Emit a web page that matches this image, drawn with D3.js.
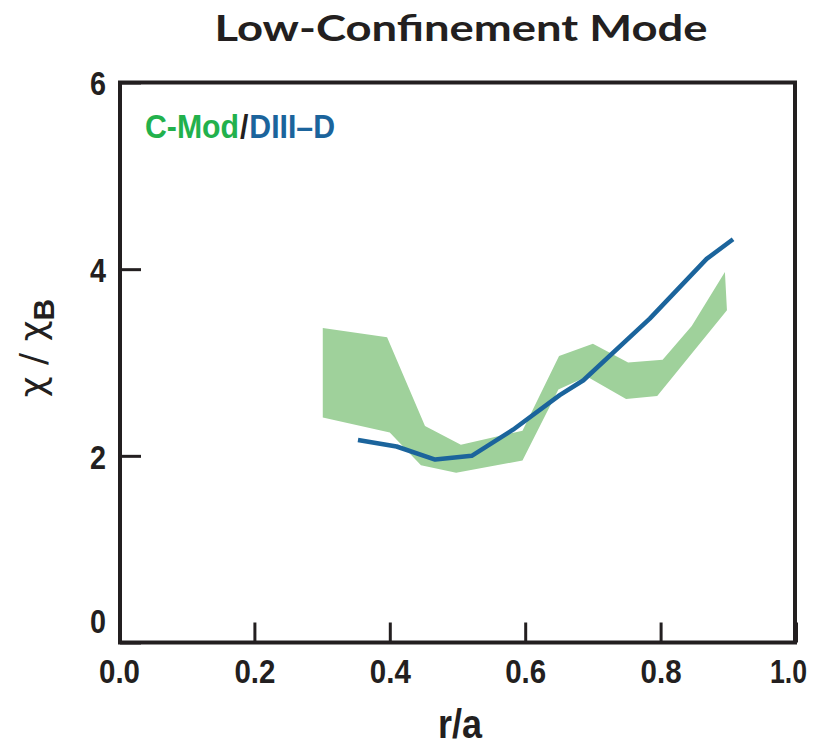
<!DOCTYPE html>
<html>
<head>
<meta charset="utf-8">
<script src="https://cdn.jsdelivr.net/npm/d3@7"></script>
<style>
  html, body { margin: 0; padding: 0; background: #ffffff; }
  svg { display: block; }
</style>
</head>
<body>
<svg id="chart" width="817" height="748"></svg>
<script>
// ---- data ----
const titleText = "Low-Confinement Mode";
const xTicks = [0.0, 0.2, 0.4, 0.6, 0.8, 1.0];
const yTicks = [0, 2, 4, 6];
const legendParts = ["C-Mod", "/", "DIII\u2013D"];

// C-Mod band (upper and lower boundaries)
const cmodUpperR   = [0.301, 0.396, 0.452, 0.505, 0.596, 0.650, 0.700, 0.752, 0.803, 0.846, 0.895];
const cmodUpperChi = [3.37, 3.27, 2.32, 2.12, 2.27, 3.07, 3.20, 3.00, 3.03, 3.39, 3.97];
const cmodLowerR   = [0.301, 0.400, 0.446, 0.498, 0.596, 0.649, 0.691, 0.749, 0.795, 0.898];
const cmodLowerChi = [2.41, 2.25, 1.90, 1.82, 1.95, 2.71, 2.85, 2.61, 2.64, 3.56];

// DIII-D line
const d3dR   = [0.353, 0.410, 0.467, 0.521, 0.582, 0.651, 0.686, 0.784, 0.868, 0.907];
const d3dChi = [2.17, 2.10, 1.96, 2.00, 2.28, 2.65, 2.81, 3.47, 4.11, 4.32];

// ---- drawing ----
const svg = d3.select("#chart");
const ink = "#231f20";
const bandColor = "#9fd19b";
const blue = "#1b649c";
const green = "#22b14c";
const narrow = "'Liberation Sans Narrow', 'Liberation Sans', Arial, sans-serif";

const x = d3.scaleLinear().domain([0, 1]).range([119, 796]);
const y = d3.scaleLinear().domain([0, 6]).range([642.5, 82.5]);

// title
svg.append("text")
  .attr("x", 461).attr("y", 41)
  .attr("text-anchor", "middle")
  .attr("font-family", "Lato, 'Open Sans', sans-serif")
  .attr("font-weight", 700)
  .attr("font-size", 37)
  .attr("fill", ink)
  .attr("textLength", 493)
  .attr("lengthAdjust", "spacingAndGlyphs")
  .text(titleText);

// band
const upper = cmodUpperR.map((r, i) => [r, cmodUpperChi[i]]);
const lower = cmodLowerR.map((r, i) => [r, cmodLowerChi[i]]);
const poly = upper.concat(lower.slice().reverse());
const lineGen = d3.line().x(d => x(d[0])).y(d => y(d[1]));
svg.append("path")
  .attr("d", lineGen(poly) + "Z")
  .attr("fill", bandColor)
  .attr("stroke", "none");

// DIII-D line
svg.append("path")
  .datum(d3dR.map((r, i) => [r, d3dChi[i]]))
  .attr("d", lineGen)
  .attr("fill", "none")
  .attr("stroke", blue)
  .attr("stroke-width", 4.5)
  .attr("stroke-linejoin", "round");

// axes (ticks inward)
const xAxis = svg.append("g")
  .attr("transform", `translate(0,${y(0)})`)
  .call(d3.axisBottom(x).tickValues(xTicks).tickSize(-20).tickSizeOuter(0).tickFormat(d3.format(".1f")));
xAxis.select(".domain").remove();
xAxis.selectAll(".tick line").attr("stroke", ink).attr("stroke-width", 3);
xAxis.selectAll(".tick text")
  .attr("y", 40).attr("dy", 0)
  .attr("font-family", narrow).attr("font-weight", 700).attr("font-size", 34)
  .attr("textLength", 41).attr("lengthAdjust", "spacingAndGlyphs")
  .attr("fill", ink);
xAxis.selectAll(".tick").filter(d => d === 1).select("text")
  .attr("x", -8).attr("textLength", 37);

const yAxis = svg.append("g")
  .attr("transform", `translate(${x(0) + 1},0)`)
  .call(d3.axisLeft(y).tickValues(yTicks).tickSize(-21).tickSizeOuter(0).tickFormat(d3.format("d")));
yAxis.select(".domain").remove();
yAxis.selectAll(".tick line").attr("stroke", ink).attr("stroke-width", 3);
yAxis.selectAll(".tick text")
  .attr("x", -14).attr("dy", "0.36em")
  .attr("font-family", narrow).attr("font-weight", 700).attr("font-size", 34)
  .attr("textLength", 16).attr("lengthAdjust", "spacingAndGlyphs")
  .attr("fill", ink);
yAxis.selectAll(".tick").filter(d => d === 0).select("text").attr("dy", "-0.3em");

// frame
svg.append("rect")
  .attr("x", x(0) + 1).attr("y", y(6))
  .attr("width", x(1) - x(0) - 2).attr("height", y(0) - y(6))
  .attr("fill", "none")
  .attr("stroke", ink)
  .attr("stroke-width", 4);

// legend text: three separate pieces laid out side by side
const legColors = [green, ink, blue];
const legTexts = legendParts.map((t, i) => svg.append("text")
  .attr("y", 138)
  .attr("font-family", narrow).attr("font-weight", 700).attr("font-size", 33)
  .attr("fill", legColors[i])
  .text(t));
const natural = legTexts.map(t => t.node().getComputedTextLength());
const gap = 1;
const k = (190 - gap * 2) / d3.sum(natural);
let cx = 145;
legTexts.forEach((t, i) => {
  const w = natural[i] * k;
  t.attr("x", cx).attr("textLength", w).attr("lengthAdjust", "spacingAndGlyphs");
  cx += w + gap;
});

// x label
svg.append("text")
  .attr("x", 460).attr("y", 738)
  .attr("text-anchor", "middle")
  .attr("font-family", narrow).attr("font-weight", 700).attr("font-size", 40)
  .attr("textLength", 44).attr("lengthAdjust", "spacingAndGlyphs")
  .attr("fill", ink)
  .text("r/a");

// y label
const yl = svg.append("text")
  .attr("transform", "translate(45,348) rotate(-90)")
  .attr("text-anchor", "middle")
  .attr("font-family", "'DejaVu Sans', sans-serif")
  .attr("font-size", 36)
  .attr("fill", ink);
yl.append("tspan").text("\u03C7 / \u03C7");
yl.append("tspan").attr("font-weight", 700).attr("font-size", 30).attr("dy", 9)
  .attr("font-family", narrow).text("B");
</script>
</body>
</html>
